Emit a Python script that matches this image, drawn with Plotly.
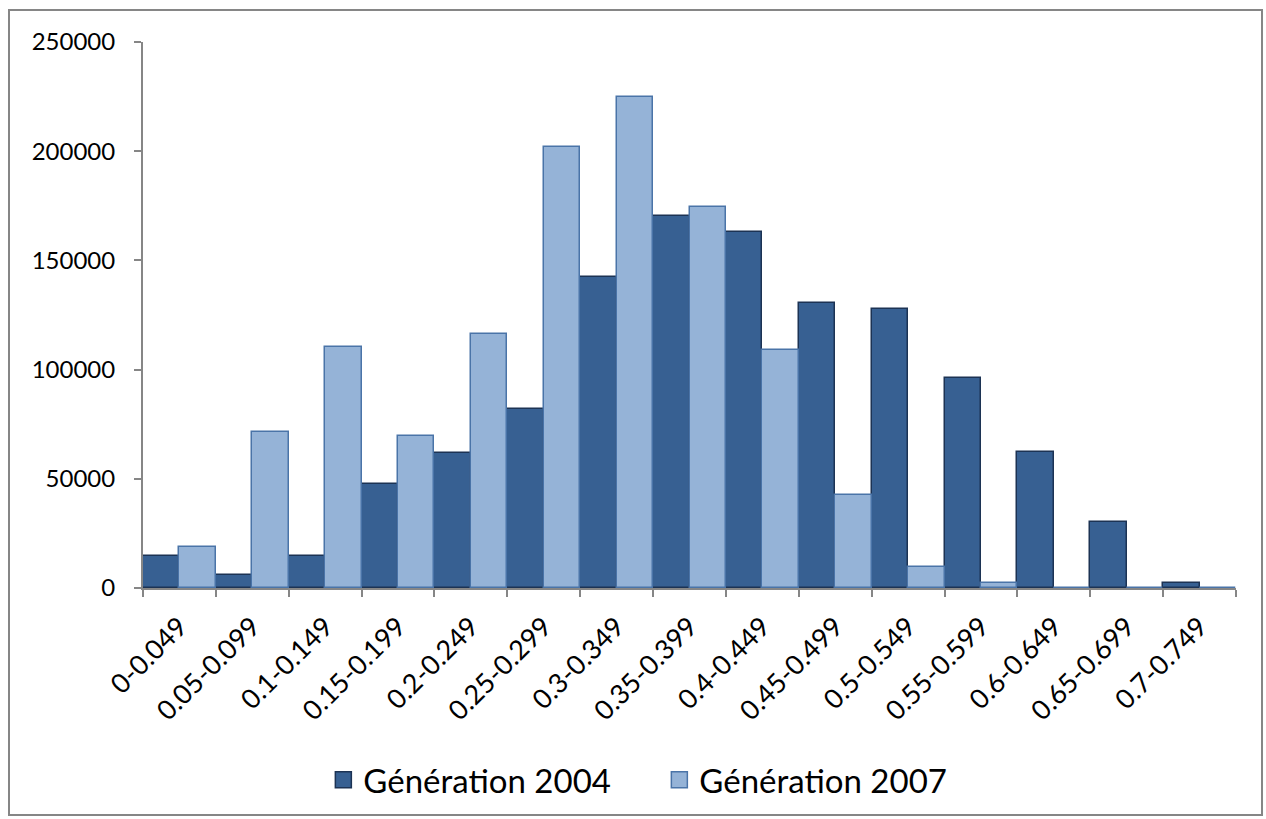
import plotly.graph_objects as go

categories = ["0-0.049", "0.05-0.099", "0.1-0.149", "0.15-0.199", "0.2-0.249",
              "0.25-0.299", "0.3-0.349", "0.35-0.399", "0.4-0.449", "0.45-0.499",
              "0.5-0.549", "0.55-0.599", "0.6-0.649", "0.65-0.699", "0.7-0.749"]
gen2004 = [14500, 6000, 14500, 47600, 61800, 82000, 142600, 170200, 163000,
           130300, 127800, 96000, 62300, 30200, 2500]
gen2007 = [18800, 71400, 110400, 69600, 116300, 201800, 225000, 174500, 108800,
           42500, 9600, 2500, 0, 0, 0]
y_ticks = [0, 50000, 100000, 150000, 200000, 250000]

font_family = "Lato, Open Sans, sans-serif"
dark_fill, dark_line = "#376092", "#1C3354"
light_fill, light_line = "#95B3D7", "#4A74A8"

fig = go.Figure()
fig.add_trace(go.Bar(x=categories, y=gen2004, name="Génération 2004", showlegend=False,
                     marker=dict(color=dark_fill, line=dict(color=dark_line, width=1.5))))
fig.add_trace(go.Bar(x=categories, y=gen2007, name="Génération 2007", showlegend=False,
                     marker=dict(color=light_fill, line=dict(color=light_line, width=1.5))))
# legend entries with larger square symbols
fig.add_trace(go.Scatter(x=[None], y=[None], mode="markers", name="Génération 2004",
                         marker=dict(symbol="square", size=22, color=dark_fill,
                                     line=dict(color=dark_line, width=1.5))))
fig.add_trace(go.Scatter(x=[None], y=[None], mode="markers", name="Génération 2007",
                         marker=dict(symbol="square", size=22, color=light_fill,
                                     line=dict(color=light_line, width=1.5))))

axis_col = "#868686"
fig.update_layout(
    width=1266, height=819,
    margin=dict(l=143, r=30, t=42, b=231, autoexpand=False),
    paper_bgcolor="white", plot_bgcolor="white",
    barmode="group", bargap=0, bargroupgap=0,
    font=dict(family=font_family, color="black"),
    showlegend=True,
    legend=dict(orientation="h", x=0.165, xanchor="left", y=-0.3, yanchor="top",
                font=dict(size=33, family=font_family), traceorder="normal",
                itemwidth=30, itemsizing="trace",
                entrywidth=291, entrywidthmode="pixels"),
    xaxis=dict(type="category", showline=True, linecolor=axis_col, linewidth=2,
               ticks="outside", ticklen=7, tickcolor=axis_col, tickwidth=2,
               tickson="boundaries", tickangle=-45, ticklabelstandoff=10,
               automargin=False,
               tickfont=dict(size=27, family=font_family), showgrid=False),
    yaxis=dict(range=[0, 250000], tickvals=y_ticks, ticktext=[str(v) for v in y_ticks],
               showline=True, linecolor=axis_col, linewidth=2,
               ticks="outside", ticklen=7, tickcolor=axis_col, tickwidth=2,
               ticklabelstandoff=14, automargin=False,
               tickfont=dict(size=24, family=font_family), showgrid=False,
               zeroline=False),
    shapes=[dict(type="rect", xref="paper", yref="paper",
                 x0=-0.1226, x1=1.0238, y0=-0.4158, y1=1.0586,
                 line=dict(color=axis_col, width=2), fillcolor="rgba(0,0,0,0)")],
)

fig.write_html("out.html", config={"displayModeBar": False},
               post_script="document.body.style.margin='0px';")
